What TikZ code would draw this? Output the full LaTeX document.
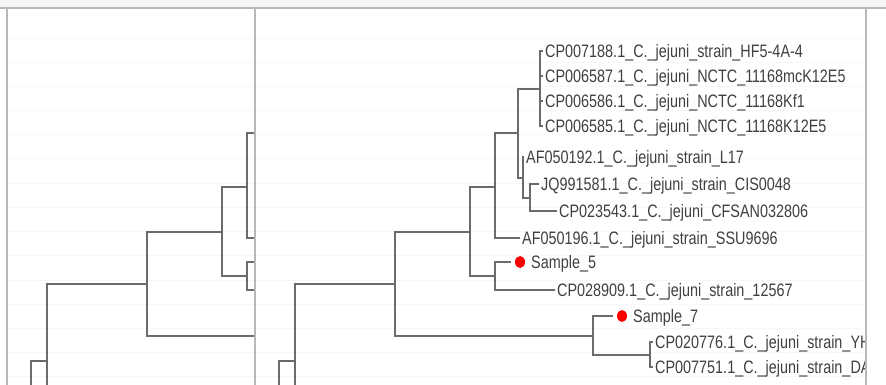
\documentclass[tikz,border=0pt]{standalone}
\usepackage{fontspec}
\setmainfont{Liberation Sans}
\usepackage{graphicx}
\usetikzlibrary{shapes.geometric}
\newcommand{\lbl}[1]{\scalebox{1}[1.25]{#1}}
\newcommand{\drawtree}{%
  % internal nodes of the dendrogram
  \coordinate (r0) at (279,361);
  \coordinate (r0b) at (279,400);
  \coordinate (r1) at (295,361);
  \coordinate (r1b) at (295,400);
  \coordinate (r2) at (395,284);
  \coordinate (r3) at (470,232);
  \coordinate (r4) at (495,187);
  \coordinate (r5) at (495,276);
  \coordinate (r6) at (518,133);
  \coordinate (r7) at (540,89);
  \coordinate (r8) at (523,178);
  \coordinate (r9) at (530,198);
  \coordinate (r10) at (593,336);
  \coordinate (r11) at (650,355);
  % leaves
  \node[leaf] (l1) at (543,51) {\lbl{CP007188.1\_C.\_jejuni\_strain\_HF5-4A-4}};
  \node[leaf] (l2) at (543,76) {\lbl{CP006587.1\_C.\_jejuni\_NCTC\_11168mcK12E5}};
  \node[leaf] (l3) at (543,101) {\lbl{CP006586.1\_C.\_jejuni\_NCTC\_11168Kf1}};
  \node[leaf] (l4) at (543,126) {\lbl{CP006585.1\_C.\_jejuni\_NCTC\_11168K12E5}};
  \node[leaf] (l5) at (524,157) {\lbl{AF050192.1\_C.\_jejuni\_strain\_L17}};
  \node[leaf] (l6) at (539,184) {\lbl{JQ991581.1\_C.\_jejuni\_strain\_CIS0048}};
  \node[leaf] (l7) at (557,211) {\lbl{CP023543.1\_C.\_jejuni\_CFSAN032806}};
  \node[leaf] (l8) at (520,238) {\lbl{AF050196.1\_C.\_jejuni\_strain\_SSU9696}};
  \node[sdot] (d5) at (520,262) {};
  \node[leaf] (l9) at (529,262) {\lbl{Sample\_5}};
  \node[leaf] (l10) at (555,290) {\lbl{CP028909.1\_C.\_jejuni\_strain\_12567}};
  \node[sdot] (d7) at (622,316) {};
  \node[leaf] (l11) at (631,316) {\lbl{Sample\_7}};
  \node[leaf] (l12) at (653,342) {\lbl{CP020776.1\_C.\_jejuni\_strain\_YH}};
  \node[leaf] (l13) at (653,367) {\lbl{CP007751.1\_C.\_jejuni\_strain\_DA}};
  % branches
  \draw[branch] (r1) -- (r0) -- (r0b);
  \draw[branch] (r1) -- (r1b);
  \draw[branch] (r2) -| (r1);
  \draw[branch] (r3) -| (r2);
  \draw[branch] (r10) -| (r2);
  \draw[branch] (r4) -| (r3);
  \draw[branch] (r5) -| (r3);
  \draw[branch] (r6) -| (r4);
  \draw[branch] (l8.west) -| (r4);
  \draw[branch] (r7) -| (r6);
  \draw[branch] (r8) -| (r6);
  \draw[branch] (l1.west) -| (r7);
  \draw[branch] (l2.west) -| (r7);
  \draw[branch] (l3.west) -| (r7);
  \draw[branch] (l4.west) -| (r7);
  \draw[branch] (l5.west) -| (r8);
  \draw[branch] (r9) -| (r8);
  \draw[branch] (l6.west) -| (r9);
  \draw[branch] (l7.west) -| (r9);
  \draw[branch] ([xshift=-4pt]d5.west) -| (r5);
  \draw[branch] (l10.west) -| (r5);
  \draw[branch] ([xshift=-4pt]d7.west) -| (r10);
  \draw[branch] (r11) -| (r10);
  \draw[branch] (l12.west) -| (r11);
  \draw[branch] (l13.west) -| (r11);
}
\begin{document}
\begin{tikzpicture}[x=1pt,y=-1pt,
  branch/.style={draw=black!58,line width=1.7pt},
  frame/.style={draw=black!28,line width=1.6pt},
  rowline/.style={draw=black!3,line width=0.8pt},
  leaf/.style={anchor=west,inner xsep=2pt,inner ysep=0pt,text height=12.9pt,text depth=0pt,
    text=black!75,font=\fontsize{14.4}{17}\selectfont},
  sdot/.style={ellipse,fill=red,draw=none,inner sep=0pt,minimum width=10pt,minimum height=12pt}]
\useasboundingbox (0,0) rectangle (886,385);
\fill[white] (0,0) rectangle (886,385);
\fill[black!4] (0,0) rectangle (886,7);
% faint row lines
\foreach \yy in {38,62,86,110,134,158,183,207,231,255,280,304,328,352,376}
  \draw[rowline] (7,\yy) -- (866,\yy);
% left panel
\begin{scope}
  \clip (7,8) rectangle (255,385);
  \begin{scope}[xshift=-248pt]
    \drawtree
  \end{scope}
\end{scope}
% right panel
\begin{scope}
  \clip (255,8) rectangle (865,385);
  \drawtree
\end{scope}
% panel frames
\draw[frame] (0,8) -- (886,8);
\draw[frame] (7,8) -- (7,385);
\draw[frame] (255,8) -- (255,385);
\draw[frame] (866,8) -- (866,385);
\end{tikzpicture}
\end{document}
